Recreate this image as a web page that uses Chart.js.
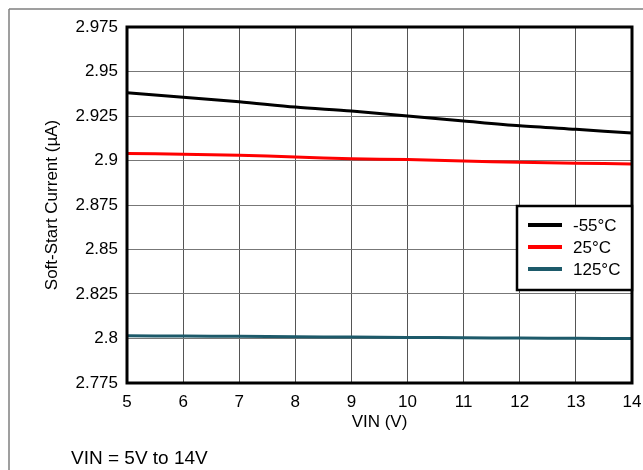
<!DOCTYPE html>
<html>
<head>
<meta charset="utf-8">
<script src="https://cdn.jsdelivr.net/npm/chart.js@4/dist/chart.umd.min.js"></script>
<style>
  html, body { margin: 0; padding: 0; background: #fff; }
  #wrap { width: 643px; height: 470px; position: relative; }
</style>
</head>
<body>
<div id="wrap"><canvas id="chart"></canvas></div>
<script>
// data
const vin = [5, 6, 7, 8, 9, 10, 11, 12, 13, 14];
const tempLabels = ['-55°C', '25°C', '125°C'];
const currentM55 = [2.938, 2.9355, 2.933, 2.930, 2.9278, 2.925, 2.9222, 2.9195, 2.9175, 2.9155];
const current25 = [2.904, 2.9035, 2.903, 2.902, 2.901, 2.9005, 2.8997, 2.899, 2.8985, 2.898];
const current125 = [2.8015, 2.8014, 2.8012, 2.801, 2.8008, 2.8006, 2.8004, 2.8003, 2.8001, 2.800];
const yTicks = [2.775, 2.8, 2.825, 2.85, 2.875, 2.9, 2.925, 2.95, 2.975];
const footerNote = 'VIN = 5V to 14V';

const colors = ['#000000', '#ff0000', '#1d5a6a'];
const FONT = "'Liberation Sans', Arial, sans-serif";

const toPoints = arr => arr.map((v, i) => ({ x: vin[i], y: v }));

// frame lines, plot border, boxed legend and footer note
const decorations = {
  id: 'decorations',
  afterDraw(chart) {
    const { ctx, chartArea: a } = chart;
    ctx.save();
    ctx.strokeStyle = '#808080';
    ctx.lineWidth = 1.5;
    ctx.beginPath();
    ctx.moveTo(9, 9); ctx.lineTo(643, 9);
    ctx.moveTo(9, 9); ctx.lineTo(9, 470);
    ctx.stroke();

    ctx.strokeStyle = '#000';
    ctx.lineWidth = 3;
    ctx.strokeRect(a.left, a.top, a.right - a.left, a.bottom - a.top);

    // legend box
    const bx = 517, by = 206, bw = a.right - 517, bh = 84;
    ctx.fillStyle = '#fff';
    ctx.fillRect(bx, by, bw, bh);
    ctx.lineWidth = 2.5;
    ctx.strokeRect(bx, by, bw, bh);
    ctx.font = '17px ' + FONT;
    ctx.textBaseline = 'middle';
    chart.data.datasets.forEach((ds, i) => {
      const y = 225 + i * 22;
      ctx.strokeStyle = ds.borderColor;
      ctx.lineWidth = 4;
      ctx.beginPath();
      ctx.moveTo(528, y); ctx.lineTo(562, y);
      ctx.stroke();
      ctx.fillStyle = '#000';
      ctx.fillText(ds.label, 573, y + 1);
    });

    ctx.font = '19px ' + FONT;
    ctx.fillStyle = '#000';
    ctx.textBaseline = 'middle';
    ctx.fillText(footerNote, 71, 459);
    ctx.restore();
  }
};

new Chart(document.getElementById('chart'), {
  type: 'line',
  data: {
    datasets: [
      { label: tempLabels[0], data: toPoints(currentM55), borderColor: colors[0] },
      { label: tempLabels[1], data: toPoints(current25), borderColor: colors[1] },
      { label: tempLabels[2], data: toPoints(current125), borderColor: colors[2] }
    ]
  },
  options: {
    responsive: true,
    maintainAspectRatio: false,
    animation: false,
    layout: { padding: { top: 27, right: 11, bottom: 37, left: 0 } },
    elements: {
      point: { radius: 0 },
      line: { borderWidth: 3, tension: 0.3 }
    },
    plugins: {
      legend: { display: false },
      tooltip: { enabled: false }
    },
    scales: {
      x: {
        type: 'linear',
        min: 5,
        max: 14,
        afterFit: s => { s.height = 50; s.paddingLeft = 0; s.paddingRight = 0; },
        afterBuildTicks: s => { s.ticks = vin.map(v => ({ value: v })); },
        ticks: { color: '#000', font: { family: FONT, size: 17 }, padding: 9, autoSkip: false, maxRotation: 0 },
        grid: { color: '#555', lineWidth: 1, drawTicks: false },
        border: { display: false },
        title: { display: true, text: 'VIN (V)', color: '#000', font: { family: FONT, size: 17 }, padding: { top: 0, bottom: 0 } }
      },
      y: {
        type: 'linear',
        min: 2.775,
        max: 2.975,
        afterFit: s => { s.width = 127; s.paddingTop = 0; s.paddingBottom = 0; },
        afterBuildTicks: s => { s.ticks = yTicks.map(v => ({ value: v })); },
        ticks: {
          color: '#000', font: { family: FONT, size: 17 }, padding: 9,
          callback: v => String(+Number(v).toFixed(3))
        },
        grid: { color: '#777', lineWidth: 1, drawTicks: false },
        border: { display: false },
        title: { display: true, text: 'Soft-Start Current (µA)', color: '#000', font: { family: FONT, size: 17 }, padding: { top: 42, bottom: 0 } }
      }
    }
  },
  plugins: [decorations]
});
</script>
</body>
</html>
